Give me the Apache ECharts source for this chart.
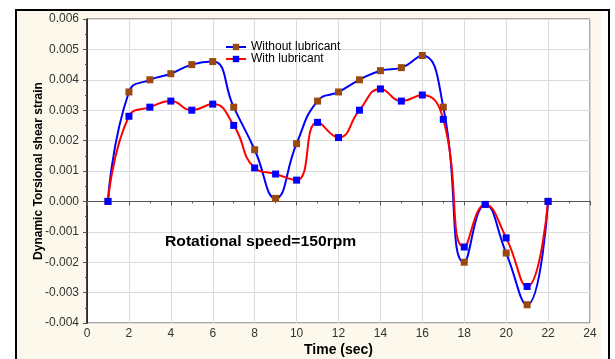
<!DOCTYPE html>
<html><head><meta charset="utf-8">
<script src="https://cdn.jsdelivr.net/npm/echarts@6/dist/echarts.min.js"></script>
<style>html,body{margin:0;padding:0;background:#fff}#c{width:615px;height:359px}</style>
</head><body><div id="c"></div>
<script>
const timeSec = [1,2,3,4,5,6,7,8,9,10,11,12,13,14,15,16,17,18,19,20,21,22];
const withoutLubricant = [0.0000,0.0036,0.0040,0.0042,0.0045,0.0046,0.0031,0.0017,0.0001,0.0019,0.0033,0.0036,0.0040,0.0043,0.0044,0.0048,0.0031,-0.0020,-0.0001,-0.0017,-0.0034,0.0000];
const withLubricant = [0.0000,0.0028,0.0031,0.0033,0.0030,0.0032,0.0025,0.0011,0.0009,0.0007,0.0026,0.0021,0.0030,0.0037,0.0033,0.0035,0.0027,-0.0015,-0.0001,-0.0012,-0.0028,0.0000];
const seriesNames = ['Without lubricant','With lubricant'];

const chart = echarts.init(document.getElementById('c'));
const font = 'Liberation Sans, Arial, sans-serif';
const axisCol = '#555';
const lbl = {color:'#333', fontSize:12, fontFamily:font};
chart.setOption({
  backgroundColor:'#fff',
  animation:false,
  graphic:[
    {type:'rect', shape:{x:17,y:11,width:584,height:348}, style:{fill:'#fdf8ec'}, z:-10},
    {type:'rect', shape:{x:15,y:9,width:595,height:2}, style:{fill:'#000'}, z:-5},
    {type:'rect', shape:{x:15,y:9,width:2,height:350}, style:{fill:'#000'}, z:-5},
    {type:'rect', shape:{x:608,y:9,width:2,height:350}, style:{fill:'#000'}, z:-5},
    {type:'text', x:165, y:235, scaleX:1.12, style:{text:'Rotational speed=150rpm', font:'bold 14px '+font, fill:'#000'}, z:10}
  ],
  grid:{left:87,right:25,top:19,bottom:36,show:true,backgroundColor:'#fff',borderColor:axisCol,borderWidth:1,
        containLabel:false, outerBoundsMode:'none'},
  legend:{
    data:seriesNames, orient:'vertical', left:220, top:36, itemGap:0, itemWidth:20, itemHeight:8,
    textStyle:{fontSize:12, fontFamily:font, color:'#000'}
  },
  xAxis:[{
    type:'value', min:0, max:24, interval:2,
    name:'Time (sec)', nameLocation:'middle', nameGap:20, nameMoveOverlap:false,
    nameTextStyle:{fontSize:14, fontWeight:'bold', fontFamily:font, color:'#000'},
    axisLine:{lineStyle:{color:axisCol}}, axisTick:{show:true,length:4,lineStyle:{color:axisCol}},
    minorTick:{show:true,splitNumber:2,length:2,lineStyle:{color:axisCol}},
    axisLabel:Object.assign({margin:5},lbl),
    splitLine:{show:true,lineStyle:{color:'#dcdcdc',width:1}}
  },{
    type:'value', min:0, max:24, interval:2, position:'top',
    axisLine:{lineStyle:{color:axisCol}}, axisTick:{show:true,inside:true,length:3,lineStyle:{color:axisCol}},
    axisLabel:{show:false}, splitLine:{show:false}
  }],
  yAxis:[{
    type:'value', min:-0.004, max:0.006, interval:0.001,
    name:'Dynamic Torsional shear strain', nameLocation:'middle', nameGap:42, nameMoveOverlap:false,
    nameTextStyle:{fontSize:12, fontWeight:'bold', fontFamily:font, color:'#000'},
    axisLine:{show:true,lineStyle:{color:axisCol}}, axisTick:{show:true,length:4,lineStyle:{color:axisCol}},
    minorTick:{show:true,splitNumber:2,length:2,lineStyle:{color:axisCol}},
    axisLabel:Object.assign({margin:8, formatter:v=>v.toFixed(3)},lbl),
    splitLine:{show:true,lineStyle:{color:'#dcdcdc',width:1}}
  },{
    type:'value', min:-0.004, max:0.006, interval:0.001, position:'right',
    axisLine:{show:true,lineStyle:{color:'#222',width:1.5}}, axisTick:{show:true,inside:true,length:3,lineStyle:{color:axisCol}},
    axisLabel:{show:false}, splitLine:{show:false}
  }],
  series:[
    {name:seriesNames[0], type:'line', smooth:0.5, data:timeSec.map((t,i)=>[t,withoutLubricant[i]]),
     symbol:'rect', symbolSize:7, lineStyle:{color:'#0000ff',width:2}, itemStyle:{color:'#9a4a0e'}, z:3},
    {name:seriesNames[1], type:'line', smooth:0.5, data:timeSec.map((t,i)=>[t,withLubricant[i]]),
     symbol:'rect', symbolSize:7, lineStyle:{color:'#ff0000',width:2}, itemStyle:{color:'#0000ff'}, z:4}
  ]
});
</script></body></html>
